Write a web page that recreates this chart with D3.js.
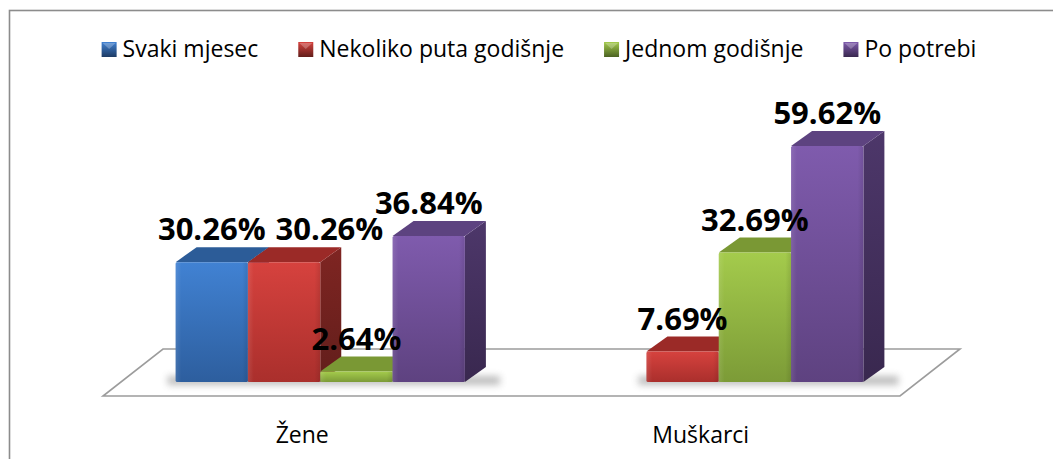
<!DOCTYPE html>
<html>
<head>
<meta charset="utf-8">
<script src="https://cdn.jsdelivr.net/npm/d3@7"></script>
<style>
  html, body { margin: 0; padding: 0; background: #ffffff; }
  svg { display: block; }
</style>
</head>
<body>
<svg id="chart" width="1053" height="459"></svg>
<script>
// Survey answers by gender (percent of respondents)
const categories = ["Žene", "Muškarci"];
const seriesNames = ["Svaki mjesec", "Nekoliko puta godišnje", "Jednom godišnje", "Po potrebi"];
const zeneValues = [30.26, 30.26, 2.64, 36.84];
const muskarciValues = [null, 7.69, 32.69, 59.62];
const valuesByCategory = [zeneValues, muskarciValues];

// Shading for each series: front face (top -> bottom), top face, side face (top -> bottom)
const palette = [
  { front: ["#4182d3", "#2d5e9e"], top: "#2c5c98", side: ["#25497c", "#1d3b64"] },
  { front: ["#d6423e", "#aa2f2c"], top: "#9b2a27", side: ["#7f2522", "#621e1b"] },
  { front: ["#a4cb4c", "#7c9b37"], top: "#7a9834", side: ["#617c2b", "#4b6222"] },
  { front: ["#7f5bad", "#5e4280"], top: "#5d4380", side: ["#4d376a", "#39284f"] }
];

const svg = d3.select("#chart");
const W = 1053, H = 459;
const uiFont = "'Open Sans', 'Noto Sans', sans-serif";

// Chart frame (left and top edges visible)
svg.append("rect")
  .attr("x", 9.5).attr("y", 10.5)
  .attr("width", W + 20).attr("height", H + 20)
  .attr("fill", "#ffffff")
  .attr("stroke", "#8c8c8c").attr("stroke-width", 1.6);

const defs = svg.append("defs");
palette.forEach((p, i) => {
  const gf = defs.append("linearGradient").attr("id", "front" + i)
    .attr("x1", 0).attr("y1", 0).attr("x2", 0).attr("y2", 1);
  gf.append("stop").attr("offset", "0%").attr("stop-color", p.front[0]);
  gf.append("stop").attr("offset", "100%").attr("stop-color", p.front[1]);
  const gs = defs.append("linearGradient").attr("id", "side" + i)
    .attr("x1", 0).attr("y1", 0).attr("x2", 0).attr("y2", 1);
  gs.append("stop").attr("offset", "0%").attr("stop-color", p.side[0]);
  gs.append("stop").attr("offset", "100%").attr("stop-color", p.side[1]);
  // soft bevel highlight across the front face
  const gh = defs.append("linearGradient").attr("id", "bevel" + i)
    .attr("x1", 0).attr("y1", 0).attr("x2", 1).attr("y2", 0);
  gh.append("stop").attr("offset", "0%").attr("stop-color", "#ffffff").attr("stop-opacity", 0.10);
  gh.append("stop").attr("offset", "8%").attr("stop-color", "#ffffff").attr("stop-opacity", 0.0);
  gh.append("stop").attr("offset", "92%").attr("stop-color", "#000000").attr("stop-opacity", 0.0);
  gh.append("stop").attr("offset", "100%").attr("stop-color", "#000000").attr("stop-opacity", 0.10);
  // legend swatch
  const gl = defs.append("linearGradient").attr("id", "legend" + i)
    .attr("x1", 0).attr("y1", 0).attr("x2", 0).attr("y2", 1);
  gl.append("stop").attr("offset", "0%").attr("stop-color", p.front[0]);
  gl.append("stop").attr("offset", "100%").attr("stop-color", p.side[1]);
});
defs.append("filter").attr("id", "shadowBlur")
  .attr("x", "-20%").attr("y", "-200%").attr("width", "140%").attr("height", "500%")
  .append("feGaussianBlur").attr("stdDeviation", 3.5);

// ---- 3D geometry -------------------------------------------------------
const floorFrontY = 396;
const floorDepth = { dx: 60, dy: -47 };     // front edge -> back edge of floor
const barInset = { dx: 18, dy: -14 };       // floor front edge -> bar front face
const barDepth = { dx: 21, dy: -15 };       // bar front face -> bar back face
const baseY = floorFrontY + barInset.dy;

const x0 = d3.scaleBand().domain(categories).range([103, 900]).paddingInner(0).paddingOuter(0);
const x1 = d3.scaleBand().domain(seriesNames).range([0, x0.bandwidth()])
  .paddingInner(0).paddingOuter(0.755);
const y = d3.scaleLinear().domain([0, 60]).range([baseY, baseY - 237.6]);

// Floor plane
const [fx0, fx1] = x0.range();
const floorPts = [
  [fx0, floorFrontY], [fx1, floorFrontY],
  [fx1 + floorDepth.dx, floorFrontY + floorDepth.dy],
  [fx0 + floorDepth.dx, floorFrontY + floorDepth.dy]
];
svg.append("polygon")
  .attr("points", floorPts.map(p => p.join(",")).join(" "))
  .attr("fill", "#ffffff")
  .attr("stroke", "#9c9c9c").attr("stroke-width", 1.6)
  .attr("stroke-linejoin", "miter");

// Bar records
const bars = [];
categories.forEach((cat, ci) => {
  valuesByCategory[ci].forEach((v, si) => {
    if (v == null) return;
    const xl = x0(cat) + x1(seriesNames[si]) + barInset.dx;
    bars.push({ cat, ci, si, v, xl, xr: xl + x1.bandwidth(), yt: y(v) });
  });
});

// Soft shadow along each group's base
categories.forEach((cat, ci) => {
  const grp = bars.filter(b => b.ci === ci);
  const left = d3.min(grp, b => b.xl), right = d3.max(grp, b => b.xr);
  svg.append("rect")
    .attr("x", left - 8).attr("y", baseY - 6)
    .attr("width", right - left + barDepth.dx + 22).attr("height", 9)
    .attr("fill", "#6f6f6f").attr("opacity", 0.45)
    .attr("filter", "url(#shadowBlur)");
});

// Bars, drawn left to right so each front face covers the previous side face
const barG = svg.append("g");
bars.forEach(b => {
  const { dx, dy } = barDepth;
  const g = barG.append("g");
  // side face
  g.append("polygon")
    .attr("points", [[b.xr, b.yt], [b.xr + dx, b.yt + dy], [b.xr + dx, baseY + dy], [b.xr, baseY]]
      .map(p => p.join(",")).join(" "))
    .attr("fill", `url(#side${b.si})`);
  // top face
  g.append("polygon")
    .attr("points", [[b.xl, b.yt], [b.xl + dx, b.yt + dy], [b.xr + dx, b.yt + dy], [b.xr, b.yt]]
      .map(p => p.join(",")).join(" "))
    .attr("fill", palette[b.si].top);
  // front face
  g.append("rect")
    .attr("x", b.xl).attr("y", b.yt)
    .attr("width", b.xr - b.xl).attr("height", baseY - b.yt)
    .attr("rx", 1.5)
    .attr("fill", `url(#front${b.si})`);
  g.append("rect")
    .attr("x", b.xl).attr("y", b.yt)
    .attr("width", b.xr - b.xl).attr("height", baseY - b.yt)
    .attr("fill", `url(#bevel${b.si})`);
});

// Value labels, nudged right when they would collide with a neighbour
const labelSize = 31;
const capH = labelSize * 0.72;
const labelG = svg.append("g");
const placed = [];
bars.forEach(b => {
  const t = labelG.append("text")
    .attr("font-family", uiFont)
    .attr("font-weight", 700)
    .attr("font-size", labelSize)
    .attr("fill", "#000000")
    .text(b.v.toFixed(2) + "%");
  const w = t.node().getComputedTextLength();
  const baseline = b.yt - 22;
  let left = (b.xl + b.xr) / 2 - w / 2;
  placed.forEach(p => {
    const yOverlap = baseline - capH < p.bottom && baseline > p.top;
    if (yOverlap && left < p.right + 10 && left + w > p.left) left = p.right + 10;
  });
  placed.push({ left, right: left + w, top: baseline - capH, bottom: baseline });
  t.attr("x", left).attr("y", baseline);
});

// Category axis labels
svg.append("g").selectAll("text").data(categories).join("text")
  .attr("x", d => x0(d) + x0.bandwidth() / 2)
  .attr("y", 443)
  .attr("text-anchor", "middle")
  .attr("font-family", uiFont)
  .attr("font-size", 23)
  .attr("fill", "#000000")
  .text(d => d);

// Legend, centred above the plot
const legendG = svg.append("g");
const items = seriesNames.map((name, i) => {
  const g = legendG.append("g");
  g.append("rect").attr("x", 0).attr("y", -15).attr("width", 15).attr("height", 15)
    .attr("fill", `url(#legend${i})`);
  g.append("polygon").attr("points", "1,-14 14,-14 7.5,-8")
    .attr("fill", "#ffffff").attr("opacity", 0.25);
  const t = g.append("text").attr("x", 21).attr("y", 0)
    .attr("font-family", uiFont).attr("font-size", 23).attr("fill", "#000000")
    .text(name);
  return { g, w: 21 + t.node().getComputedTextLength() };
});
const gap = 40;
const total = d3.sum(items, d => d.w) + gap * (items.length - 1);
let cx = 539 - total / 2;
items.forEach(it => {
  it.g.attr("transform", `translate(${cx},57)`);
  cx += it.w + gap;
});
</script>
</body>
</html>
